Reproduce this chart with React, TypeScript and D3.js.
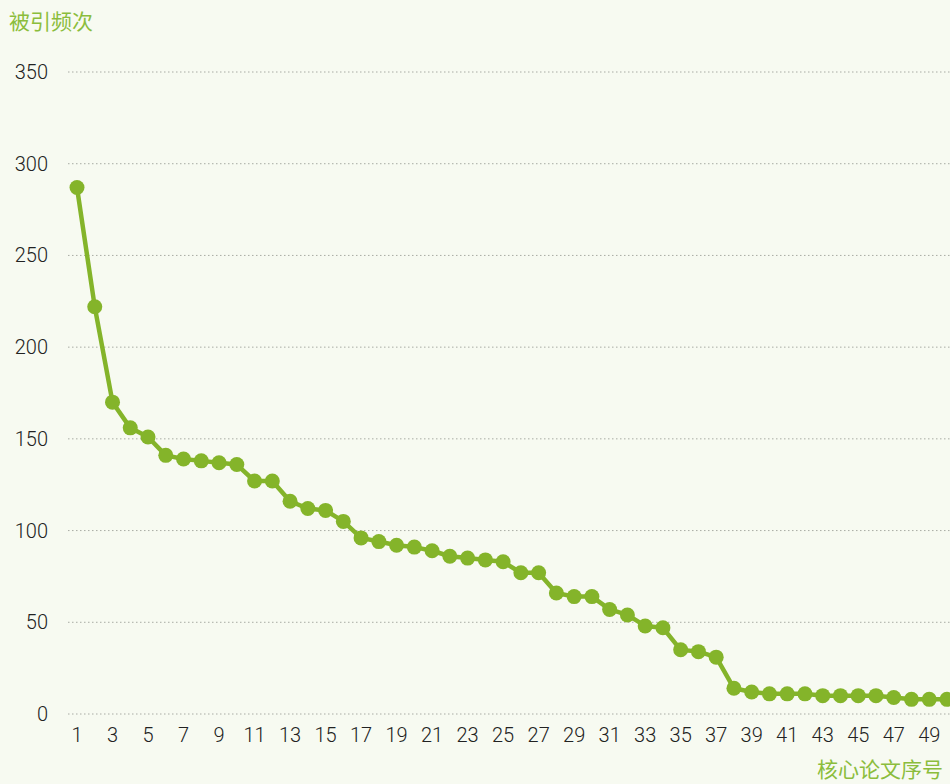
import React from "react";
import * as d3 from "d3";

const paperIndex: number[] = Array.from({ length: 50 }, (_, i) => i + 1);
const citations: number[] = [
  287, 222, 170, 156, 151, 141, 139, 138, 137, 136,
  127, 127, 116, 112, 111, 105, 96, 94, 92, 91,
  89, 86, 85, 84, 83, 77, 77, 66, 64, 64,
  57, 54, 48, 47, 35, 34, 31, 14, 12, 11,
  11, 11, 10, 10, 10, 10, 9, 8, 8, 8,
];
const yTicks: number[] = [0, 50, 100, 150, 200, 250, 300, 350];
const xTicks: number[] = paperIndex.filter((d) => d % 2 === 1);
const yTitle = "被引频次";
const xTitle = "核心论文序号";

const W = 950;
const H = 784;
const GREEN = "#84b42a";
const TITLE_GREEN = "#8bbd3c";
const BG = "#f7faf1";

export default function App() {
  const x = d3.scaleLinear().domain([1, 50]).range([77, 947]);
  const y = d3.scaleLinear().domain([0, 350]).range([714, 72]);
  const line = d3
    .line<number>()
    .x((_, i) => x(paperIndex[i]))
    .y((d) => y(d));
  const numFont = "Roboto, Lato, sans-serif";
  const cjkFont = "'Noto Sans CJK SC', sans-serif";
  return (
    <svg
      width={W}
      height={H}
      style={{ position: "absolute", left: 0, top: 0, display: "block" }}
    >
      <rect x={0} y={0} width={W} height={H} fill={BG} />
      {yTicks.map((t) => (
        <g key={t}>
          <line
            x1={68}
            x2={W}
            y1={y(t)}
            y2={y(t)}
            stroke="#a8aba4"
            strokeWidth={1}
            strokeDasharray="1.5 2.5"
          />
          <text
            x={48}
            y={y(t) + 7}
            textAnchor="end"
            fontFamily={numFont}
            fontWeight={300}
            fontSize={20}
            fill="#222"
          >
            {t}
          </text>
        </g>
      ))}
      {xTicks.map((t) => (
        <text
          key={t}
          x={x(t)}
          y={742}
          textAnchor="middle"
          fontFamily={numFont}
          fontWeight={300}
          fontSize={20}
          fill="#222"
        >
          {t}
        </text>
      ))}
      <path
        d={line(citations) || ""}
        fill="none"
        stroke={GREEN}
        strokeWidth={4.5}
        strokeLinejoin="round"
      />
      {citations.map((v, i) => (
        <circle key={i} cx={x(paperIndex[i])} cy={y(v)} r={7.5} fill={GREEN} />
      ))}
      <text x={9} y={29} fontFamily={cjkFont} fontSize={21} fill={TITLE_GREEN}>
        {yTitle}
      </text>
      <text
        x={943}
        y={777}
        textAnchor="end"
        fontFamily={cjkFont}
        fontSize={21}
        fill={TITLE_GREEN}
      >
        {xTitle}
      </text>
    </svg>
  );
}
